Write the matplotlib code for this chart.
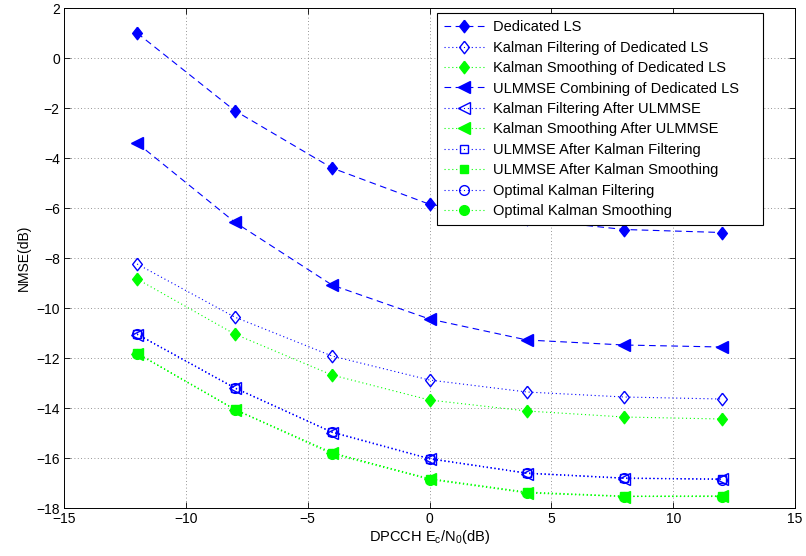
import numpy as np
import matplotlib
matplotlib.use("Agg")
import matplotlib.pyplot as plt

plt.rcParams['font.family'] = ['Liberation Sans', 'DejaVu Sans']
plt.rcParams['mathtext.default'] = 'regular'
plt.rcParams['font.size'] = 10

snr = [-12, -8, -4, 0, 4, 8, 12]

ded_ls = [1.0, -2.1, -4.4, -5.85, -6.45, -6.86, -6.98]
kf_ded = [-8.24, -10.36, -11.92, -12.88, -13.36, -13.56, -13.64]
ks_ded = [-8.84, -11.04, -12.68, -13.68, -14.12, -14.36, -14.44]
ulmmse_comb = [-3.4, -6.56, -9.08, -10.44, -11.28, -11.48, -11.56]
kf_after_ul = [-11.06, -13.2, -14.98, -16.04, -16.62, -16.82, -16.84]
ks_after_ul = [-11.82, -14.06, -15.78, -16.84, -17.38, -17.54, -17.52]
ul_after_kf = [-11.04, -13.18, -14.96, -16.02, -16.6, -16.8, -16.84]
ul_after_ks = [-11.8, -14.04, -15.8, -16.82, -17.36, -17.52, -17.52]
opt_kf = [-11.04, -13.2, -14.96, -16.02, -16.6, -16.8, -16.86]
opt_ks = [-11.82, -14.06, -15.84, -16.86, -17.4, -17.54, -17.54]

labels = ['Dedicated LS',
          'Kalman Filtering of Dedicated LS',
          'Kalman Smoothing of Dedicated LS',
          'ULMMSE Combining of Dedicated LS',
          'Kalman Filtering After ULMMSE',
          'Kalman Smoothing After ULMMSE',
          'ULMMSE After Kalman Filtering',
          'ULMMSE After Kalman Smoothing',
          'Optimal Kalman Filtering',
          'Optimal Kalman Smoothing']

blue = (0, 0, 1)
green = (0, 1, 0)

# matlab style diamond, a bit taller than wide
diamond = [(0, 1), (0.78, 0), (0, -1), (-0.78, 0), (0, 1)]
dash = (0, (6, 4))
dot = (0, (1, 2.5))

# (data, color, linestyle, marker, size, filled)
series = [
    (ded_ls, blue, dash, diamond, 9, True),
    (kf_ded, blue, dot, diamond, 9, False),
    (ks_ded, green, dot, diamond, 9, True),
    (ulmmse_comb, blue, dash, '<', 8, True),
    (kf_after_ul, blue, dot, '<', 8, False),
    (ks_after_ul, green, dot, '<', 8, True),
    (ul_after_kf, blue, dot, 's', 6, False),
    (ul_after_ks, green, dot, 's', 6, True),
    (opt_kf, blue, dot, 'o', 7, False),
    (opt_ks, green, dot, 'o', 7, True),
]

fig = plt.figure(figsize=(8.06, 5.56), dpi=100)
ax = fig.add_axes([0.0794, 0.0863, 0.9070, 0.8993])

for (vals, c, ls, m, ms, filled), lab in zip(series, labels):
    ax.plot(snr, vals, color=c, linestyle=ls, linewidth=0.8,
            marker=m, markersize=ms, markeredgewidth=1.0,
            markerfacecolor=c if filled else 'none',
            markeredgecolor=c, label=lab)

ax.set_xlim(-15, 15)
ax.set_ylim(-18, 2)
ax.set_xticks(np.arange(-15, 16, 5))
ax.set_yticks(np.arange(-18, 3, 2))
ax.set_xticklabels(['\u221215', '\u221210', '\u22125', '0', '5', '10', '15'])
ax.set_yticklabels(['\u221218', '\u221216', '\u221214', '\u221212', '\u221210',
                    '\u22128', '\u22126', '\u22124', '\u22122', '0', '2'])
ax.tick_params(direction='in', top=True, right=True, length=4, width=0.6,
               labelsize=10, pad=3)
ax.grid(True, color='0.45', linestyle=(0, (1, 3)), linewidth=0.6)
for sp in ax.spines.values():
    sp.set_linewidth(0.7)

ax.set_xlabel('DPCCH E$_c$/N$_0$(dB)', fontsize=10.5, labelpad=1)
ax.set_ylabel('NMSE(dB)', fontsize=10, labelpad=4)

# matlab leaves extra room right of the longest label
handles, labs = ax.get_legend_handles_labels()
labs[3] = labs[3] + '    '
leg = ax.legend(handles, labs, loc='upper right', bbox_to_anchor=(0.956, 0.99),
                fontsize=10.5, fancybox=False, edgecolor='black',
                framealpha=1, handlelength=2.75, labelspacing=0.44,
                borderpad=0.5, handletextpad=0.6, borderaxespad=0)
leg.get_frame().set_linewidth(0.8)

fig.savefig('out.png', dpi=100)
